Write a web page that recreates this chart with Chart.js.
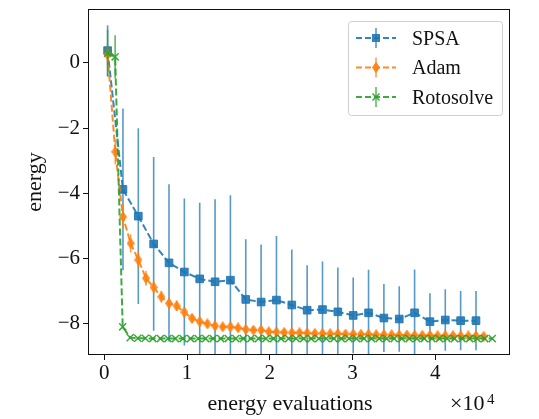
<!DOCTYPE html>
<html>
<head>
<meta charset="utf-8">
<script src="https://cdn.jsdelivr.net/npm/chart.js"></script>
<style>
  html, body { margin: 0; padding: 0; background: #fff; }
  #wrap { width: 539px; height: 419px; position: relative; }
</style>
</head>
<body>
<div id="wrap"><canvas id="energyChart"></canvas></div>
<script>
// values (energy evaluations vs energy)
const SPSA_X = [400, 2255, 4110, 5965, 7820, 9675, 11530, 13385, 15240, 17095, 18950, 20805, 22660,
    24515, 26370, 28225, 30080, 31935, 33790, 35645, 37500, 39355, 41210, 43065, 44920];
const SPSA_Y = [0.37, -3.88, -4.70, -5.55, -6.13, -6.41, -6.62, -6.71, -6.66, -7.25, -7.33, -7.27, -7.42,
    -7.58, -7.56, -7.63, -7.74, -7.66, -7.82, -7.85, -7.66, -7.93, -7.88, -7.90, -7.90];
const SPSA_ERR = [0.78, 2.48, 2.69, 2.66, 2.41, 2.25, 2.33, 2.53, 2.60, 1.84, 1.76, 1.96, 1.70,
    1.38, 1.47, 1.36, 1.16, 1.32, 1.04, 1.00, 1.33, 0.87, 0.94, 0.91, 0.91];

const ADAM_X = [400, 1328, 2255, 3183, 4110, 5038, 5965, 6893, 7820, 8748, 9675, 10603, 11530, 12458,
    13385, 14313, 15240, 16168, 17095, 18023, 18950, 19878, 20805, 21733, 22660, 23588, 24515, 25443,
    26370, 27298, 28225, 29153, 30080, 31008, 31935, 32863, 33790, 34718, 35645, 36573, 37500, 38428,
    39355, 40283, 41210, 42138, 43065, 43993, 44920, 45848];
const ADAM_Y = [0.24, -2.73, -4.72, -5.53, -6.04, -6.60, -6.88, -7.17, -7.37, -7.45, -7.64, -7.83, -7.93,
    -8.00, -8.06, -8.09, -8.09, -8.12, -8.17, -8.19, -8.19, -8.24, -8.25, -8.26, -8.27, -8.27, -8.28,
    -8.29, -8.29, -8.30, -8.30, -8.31, -8.31, -8.32, -8.32, -8.33, -8.33, -8.33, -8.34, -8.34, -8.35,
    -8.35, -8.35, -8.36, -8.36, -8.36, -8.37, -8.37, -8.37, -8.38];
const ADAM_ERR = [0.30, 0.38, 0.35, 0.28, 0.25, 0.23, 0.20, 0.18, 0.16, 0.15, 0.14, 0.13, 0.12,
    0.11, 0.10, 0.10, 0.10, 0.09, 0.09, 0.09, 0.09, 0.08, 0.08, 0.08, 0.08, 0.08, 0.08,
    0.08, 0.08, 0.07, 0.07, 0.07, 0.07, 0.07, 0.07, 0.07, 0.07, 0.07, 0.07, 0.07, 0.07,
    0.07, 0.07, 0.07, 0.07, 0.07, 0.07, 0.07, 0.07, 0.07];

const ROTO_X = [400, 1311, 2223, 3134, 4046, 4957, 5868, 6780, 7691, 8603, 9514, 10425, 11337, 12248,
    13160, 14071, 14982, 15894, 16805, 17717, 18628, 19539, 20451, 21362, 22274, 23185, 24096, 25008,
    25919, 26831, 27742, 28653, 29565, 30476, 31388, 32299, 33210, 34122, 35033, 35945, 36856, 37767,
    38679, 39590, 40502, 41413, 42324, 43236, 44147, 45059, 45970, 46881];
const ROTO_Y = [0.29, 0.18, -8.09, -8.42, -8.44, -8.44, -8.45, -8.45, -8.45, -8.45, -8.45, -8.45, -8.45,
    -8.45, -8.45, -8.45, -8.45, -8.45, -8.45, -8.45, -8.45, -8.45, -8.45, -8.45, -8.45, -8.45, -8.45,
    -8.45, -8.45, -8.45, -8.45, -8.45, -8.45, -8.45, -8.45, -8.45, -8.45, -8.45, -8.45, -8.45, -8.45,
    -8.45, -8.45, -8.45, -8.45, -8.45, -8.45, -8.45, -8.45, -8.45, -8.45, -8.45];
const ROTO_ERR = [0.72, 0.66, 0.06, 0.03, 0.03, 0.03, 0.03, 0.03, 0.03, 0.03, 0.03, 0.03, 0.03,
    0.03, 0.03, 0.03, 0.03, 0.03, 0.03, 0.03, 0.03, 0.03, 0.03, 0.03, 0.03, 0.03, 0.03,
    0.03, 0.03, 0.03, 0.03, 0.03, 0.03, 0.03, 0.03, 0.03, 0.03, 0.03, 0.03, 0.03, 0.03,
    0.03, 0.03, 0.03, 0.03, 0.03, 0.03, 0.03, 0.03, 0.03, 0.03, 0.03];

const SERIES_NAMES = ['SPSA', 'Adam', 'Rotosolve'];
const X_TICKS = [0, 10000, 20000, 30000, 40000];
const X_TICK_LABELS = ['0', '1', '2', '3', '4'];
const Y_TICKS = [0, -2, -4, -6, -8];
const Y_TICK_LABELS = ['0', '\u22122', '\u22124', '\u22126', '\u22128'];

const FONT = "'Liberation Serif', 'Times New Roman', serif";
const BLUE = 'rgba(31,119,180,0.9)', BLUE_BAR = 'rgba(31,119,180,0.75)';
const ORANGE = 'rgba(255,127,14,0.9)', ORANGE_BAR = 'rgba(255,127,14,0.75)';
const GREEN = 'rgba(44,160,44,0.9)', GREEN_BAR = 'rgba(44,160,44,0.75)';

function toPoints(xs, ys) {
    return xs.map((x, i) => ({ x: x, y: ys[i] }));
}

// thin diamond marker (matplotlib 'd')
function makeThinDiamond(fill) {
    const c = document.createElement('canvas');
    c.width = 8; c.height = 11;
    const g = c.getContext('2d');
    g.beginPath();
    g.moveTo(4, 0.5); g.lineTo(7.5, 5.5); g.lineTo(4, 10.5); g.lineTo(0.5, 5.5);
    g.closePath();
    g.fillStyle = fill; g.fill();
    g.lineWidth = 1; g.strokeStyle = fill; g.stroke();
    return c;
}
const diamond = makeThinDiamond(ORANGE);

// draw the vertical error bars of each dataset just before its line
const errorBarPlugin = {
    id: 'errorBars',
    beforeDatasetDraw(chart, args) {
        const ds = chart.data.datasets[args.index];
        if (!ds.errors) return;
        const { ctx, chartArea: a, scales: { x, y } } = chart;
        ctx.save();
        ctx.beginPath();
        ctx.rect(a.left, a.top, a.right - a.left, a.bottom - a.top);
        ctx.clip();
        ctx.strokeStyle = ds.errorColor;
        ctx.lineWidth = 1.6;
        ctx.beginPath();
        ds.data.forEach((p, i) => {
            const px = x.getPixelForValue(p.x);
            ctx.moveTo(px, y.getPixelForValue(p.y + ds.errors[i]));
            ctx.lineTo(px, y.getPixelForValue(p.y - ds.errors[i]));
        });
        ctx.stroke();
        ctx.restore();
    }
};

function legendMarker(ctx, kind, cx, cy) {
    if (kind === 0) {
        ctx.fillStyle = BLUE;
        ctx.fillRect(cx - 4, cy - 4, 8, 8);
    } else if (kind === 1) {
        ctx.drawImage(diamond, cx - 4, cy - 5.5);
    } else {
        ctx.strokeStyle = GREEN; ctx.lineWidth = 1.5; ctx.setLineDash([]);
        ctx.beginPath();
        ctx.moveTo(cx - 3.5, cy - 3.5); ctx.lineTo(cx + 3.5, cy + 3.5);
        ctx.moveTo(cx - 3.5, cy + 3.5); ctx.lineTo(cx + 3.5, cy - 3.5);
        ctx.stroke();
    }
}

// frame, legend box, x label and offset text
const decorPlugin = {
    id: 'decor',
    afterDraw(chart) {
        const { ctx, chartArea: a } = chart;
        ctx.save();
        ctx.strokeStyle = '#111';
        ctx.lineWidth = 1;
        ctx.strokeRect(Math.round(a.left) + 0.5, Math.round(a.top) + 0.5,
            Math.round(a.right - a.left) - 1, Math.round(a.bottom - a.top) - 1);

        // legend
        const bx = 348, by = 21, bw = 154, bh = 94;
        ctx.beginPath();
        ctx.roundRect(bx + 0.5, by + 0.5, bw, bh, 3);
        ctx.fillStyle = 'rgba(255,255,255,0.8)';
        ctx.fill();
        ctx.strokeStyle = '#d0d0d0';
        ctx.stroke();

        const lineCols = [BLUE, ORANGE, GREEN];
        const barCols = [BLUE_BAR, ORANGE_BAR, GREEN_BAR];
        SERIES_NAMES.forEach((name, i) => {
            const cy = 38 + i * 29.5;
            ctx.strokeStyle = lineCols[i];
            ctx.lineWidth = 2;
            ctx.setLineDash([6, 3]);
            ctx.beginPath();
            ctx.moveTo(356, cy); ctx.lineTo(396, cy);
            ctx.stroke();
            ctx.setLineDash([]);
            ctx.strokeStyle = barCols[i];
            ctx.lineWidth = 1.6;
            ctx.beginPath();
            ctx.moveTo(376, cy - 10); ctx.lineTo(376, cy + 10);
            ctx.stroke();
            legendMarker(ctx, i, 376, cy);
            ctx.fillStyle = '#111';
            ctx.font = '20px ' + FONT;
            ctx.textAlign = 'left';
            ctx.textBaseline = 'alphabetic';
            ctx.fillText(name, 412, cy + 6.5);
        });

        // x axis label and scale factor
        ctx.fillStyle = '#111';
        ctx.font = '22px ' + FONT;
        ctx.textAlign = 'center';
        ctx.fillText('energy evaluations', 290, 410);
        ctx.textAlign = 'left';
        ctx.fillText('\u00d710', 450, 410);
        ctx.font = '15px ' + FONT;
        ctx.fillText('4', 487, 404);
        ctx.restore();
    }
};

const ctx = document.getElementById('energyChart').getContext('2d');
window.energyChart = new Chart(ctx, {
    type: 'line',
    data: {
        datasets: [
            {
                label: SERIES_NAMES[0],
                data: toPoints(SPSA_X, SPSA_Y),
                errors: SPSA_ERR, errorColor: BLUE_BAR,
                borderColor: BLUE, backgroundColor: BLUE,
                borderWidth: 2, borderDash: [7, 3],
                pointStyle: 'rect', pointRadius: 5.4, pointBorderWidth: 1,
                pointBackgroundColor: BLUE, pointBorderColor: BLUE,
                order: 3
            },
            {
                label: SERIES_NAMES[1],
                data: toPoints(ADAM_X, ADAM_Y),
                errors: ADAM_ERR, errorColor: ORANGE_BAR,
                borderColor: ORANGE, backgroundColor: ORANGE,
                borderWidth: 2, borderDash: [7, 3],
                pointStyle: diamond, pointRadius: 5,
                order: 2
            },
            {
                label: SERIES_NAMES[2],
                data: toPoints(ROTO_X, ROTO_Y),
                errors: ROTO_ERR, errorColor: GREEN_BAR,
                borderColor: GREEN, backgroundColor: GREEN,
                borderWidth: 2, borderDash: [7, 3],
                pointStyle: 'crossRot', pointRadius: 5, pointBorderWidth: 1.5,
                pointBorderColor: GREEN,
                order: 1
            }
        ]
    },
    options: {
        responsive: true,
        maintainAspectRatio: false,
        animation: false,
        layout: { padding: { top: 9, right: 29, left: 0, bottom: 0 } },
        plugins: {
            legend: { display: false },
            tooltip: { enabled: false }
        },
        elements: { line: { tension: 0, fill: false } },
        scales: {
            x: {
                type: 'linear',
                min: -1970, max: 49030,
                afterBuildTicks: s => { s.ticks = X_TICKS.map(v => ({ value: v })); },
                afterFit: s => { s.height = 64; s.paddingLeft = 0; s.paddingRight = 0; },
                ticks: {
                    callback: v => X_TICK_LABELS[X_TICKS.indexOf(v)],
                    font: { family: FONT, size: 21 }, color: '#111',
                    padding: 1, maxRotation: 0, autoSkip: false
                },
                grid: { drawOnChartArea: false, drawTicks: true, tickLength: 5, color: '#111' },
                border: { display: false }
            },
            y: {
                type: 'linear',
                min: -8.952, max: 1.645,
                afterBuildTicks: s => { s.ticks = Y_TICKS.map(v => ({ value: v })); },
                afterFit: s => { s.width = 88; s.paddingTop = 0; s.paddingBottom = 0; },
                ticks: {
                    callback: v => Y_TICK_LABELS[Y_TICKS.indexOf(v)],
                    font: { family: FONT, size: 21 }, color: '#111',
                    padding: 3, autoSkip: false
                },
                grid: { drawOnChartArea: false, drawTicks: true, tickLength: 5, color: '#111' },
                border: { display: false },
                title: {
                    display: true, text: 'energy',
                    font: { family: FONT, size: 22 }, color: '#111',
                    padding: { top: 22, bottom: 0 }
                }
            }
        }
    },
    plugins: [errorBarPlugin, decorPlugin]
});
</script>
</body>
</html>
